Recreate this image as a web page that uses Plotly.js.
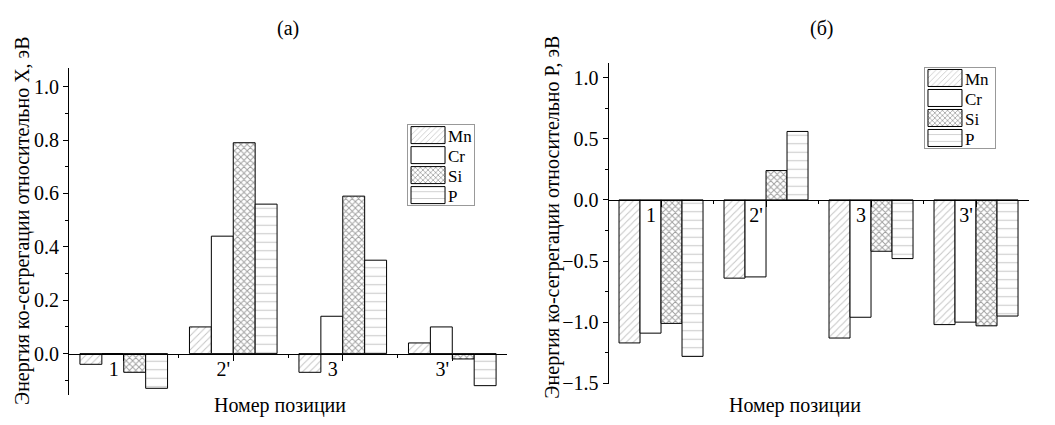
<!DOCTYPE html>
<html>
<head>
<meta charset="utf-8">
<script src="https://cdn.plot.ly/plotly-3.0.1.min.js"></script>
<style>html,body{margin:0;padding:0;background:#fff;}#chart{width:1055px;height:425px;}</style>
</head>
<body>
<div id="chart"></div>
<script>
// ---- data ----
const categories = ['1', "2'", '3', "3'"];
const seriesNames = ['Mn', 'Cr', 'Si', 'P'];
// (a) relative to X
const a_Mn = [-0.04, 0.10, -0.07, 0.04];
const a_Cr = [0.00, 0.44, 0.14, 0.10];
const a_Si = [-0.07, 0.79, 0.59, -0.02];
const a_P  = [-0.13, 0.56, 0.35, -0.12];
// (б) relative to P
const b_Mn = [-1.17, -0.64, -1.13, -1.02];
const b_Cr = [-1.09, -0.63, -0.96, -1.00];
const b_Si = [-1.01, 0.24, -0.42, -1.03];
const b_P  = [-1.28, 0.56, -0.48, -0.95];
const yTicksA = [0.0, 0.2, 0.4, 0.6, 0.8, 1.0];
const yTicksB = [-1.5, -1.0, -0.5, 0.0, 0.5, 1.0];

// ---- styles ----
const FONT = '"Liberation Serif", "Times New Roman", serif';
const styles = {
  Mn: {shape: '/', fgcolor: '#8a8a8a', size: 5, solidity: 0.2},
  Cr: {shape: '', fgcolor: '#ffffff', size: 8, solidity: 0.1},
  Si: {shape: 'x', fgcolor: '#404040', size: 4.5, solidity: 0.38},
  P:  {shape: '-', fgcolor: '#9a9a9a', size: 8.5, solidity: 0.13}
};
const xpos = categories.map((c, i) => i + 1);

function mk(name, vals, xa, ya, legend) {
  const s = styles[name];
  return {
    type: 'bar', name: name, x: xpos, y: vals, xaxis: xa, yaxis: ya, legend: legend,
    marker: {
      color: '#ffffff',
      line: {color: '#000000', width: 1},
      pattern: {shape: s.shape, fgcolor: s.fgcolor, bgcolor: '#ffffff', size: s.size, solidity: s.solidity, fillmode: 'overlay'}
    },
    hoverinfo: 'x+y+name'
  };
}
const dataA = [a_Mn, a_Cr, a_Si, a_P];
const dataB = [b_Mn, b_Cr, b_Si, b_P];
const traces = [];
seriesNames.forEach((n, i) => traces.push(mk(n, dataA[i], 'x', 'y', 'legend')));
seriesNames.forEach((n, i) => traces.push(mk(n, dataB[i], 'x2', 'y2', 'legend2')));

const domXA = [0.0654, 0.4806], domYA = [0.0706, 0.84];
const domXB = [0.5768, 0.9749], domYB = [0.0953, 0.8518];
const rangeYA = [-0.155, 1.07], rangeYB = [-1.51, 1.12];
function zeroPos(dom, r) { return dom[0] + (0 - r[0]) / (r[1] - r[0]) * (dom[1] - dom[0]); }

const tickFont = {family: FONT, size: 20, color: '#000'};
function xAxis(dom, ydom, yr) {
  return {
    domain: dom, range: [0.5, 4.5], anchor: 'free', position: zeroPos(ydom, yr),
    showline: true, linecolor: '#000', linewidth: 1, showgrid: false, zeroline: false,
    tickmode: 'array', tickvals: xpos, ticktext: categories,
    ticks: 'outside', ticklen: 6, tickcolor: '#000', ticklabelshift: -10, ticklabelstandoff: -9,
    minor: {ticks: 'outside', ticklen: 3, tickcolor: '#000', tickmode: 'array', tickvals: [1.5, 2.5, 3.5], showgrid: false},
    tickfont: tickFont, fixedrange: true
  };
}
function yAxis(dom, r, tv, mdt, anchor) {
  return {
    domain: dom, range: r, anchor: anchor, showline: true, linecolor: '#000', linewidth: 1,
    showgrid: false, zeroline: false, tickmode: 'array', tickvals: tv, tickformat: '.1f',
    ticks: 'outside', ticklen: 5, tickcolor: '#000',
    minor: {ticks: 'outside', ticklen: 3, tickcolor: '#000', dtick: mdt, showgrid: false},
    tickfont: tickFont, fixedrange: true
  };
}
const legendCommon = {
  font: {family: FONT, size: 17, color: '#000'}, bgcolor: 'rgba(255,255,255,0)',
  bordercolor: '#999', borderwidth: 1, xanchor: 'left', yanchor: 'top',
  tracegroupgap: 0, itemwidth: 30, traceorder: 'normal'
};
const titleFont = {family: FONT, size: 20, color: '#000'};
const layout = {
  width: 1055, height: 425, margin: {l: 0, r: 0, t: 0, b: 0},
  paper_bgcolor: '#fff', plot_bgcolor: 'rgba(0,0,0,0)',
  barmode: 'group', bargap: 0.2, bargroupgap: 0,
  showlegend: true,
  xaxis: xAxis(domXA, domYA, rangeYA),
  yaxis: yAxis(domYA, rangeYA, yTicksA, 0.1, 'x'),
  xaxis2: xAxis(domXB, domYB, rangeYB),
  yaxis2: yAxis(domYB, rangeYB, yTicksB, 0.25, 'x2'),
  legend: Object.assign({x: 0.3858, y: 0.708}, legendCommon),
  legend2: Object.assign({x: 0.8758, y: 0.8424}, legendCommon),
  annotations: [
    {text: '(a)', x: 0.273, y: 0.932, xref: 'paper', yref: 'paper', showarrow: false, font: titleFont, xanchor: 'center', yanchor: 'middle'},
    {text: '(б)', x: 0.7789, y: 0.932, xref: 'paper', yref: 'paper', showarrow: false, font: titleFont, xanchor: 'center', yanchor: 'middle'},
    {text: 'Энергия ко-сегрегации относительно X, эВ', x: 0.0209, y: 0.48, xref: 'paper', yref: 'paper', showarrow: false, textangle: -90, font: titleFont, xanchor: 'center', yanchor: 'middle'},
    {text: 'Энергия ко-сегрегации относительно P, эВ', x: 0.5242, y: 0.488, xref: 'paper', yref: 'paper', showarrow: false, textangle: -90, font: titleFont, xanchor: 'center', yanchor: 'middle'},
    {text: 'Номер позиции', x: 0.2654, y: 0.047, xref: 'paper', yref: 'paper', showarrow: false, font: titleFont, xanchor: 'center', yanchor: 'middle'},
    {text: 'Номер позиции', x: 0.7536, y: 0.047, xref: 'paper', yref: 'paper', showarrow: false, font: titleFont, xanchor: 'center', yanchor: 'middle'}
  ]
};

// Compact legend: wide swatches and tight rows, as in the original figure
function compactLegends() {
  const SW = 34, SH = 17, STEP = 20, TOP = 10.5, GAP = 3;
  document.querySelectorAll('g.legend, g.legend2').forEach(lg => {
    const bg = lg.querySelector('rect.bg');
    if (!bg) return;
    const items = Array.from(lg.querySelectorAll('g.traces'));
    let maxRight = 0;
    items.forEach((it, i) => {
      const txt = it.querySelector('text.legendtext');
      const tx = txt ? parseFloat(txt.getAttribute('x')) || 40 : 40;
      it.querySelectorAll('g.legendpoints path').forEach(p => {
        p.setAttribute('d', `M${SW / 2},${SH / 2}H${-SW / 2}V${-SH / 2}H${SW / 2}Z`);
        p.setAttribute('transform', `translate(${tx - GAP - SW / 2},0)`);
      });
      const bgTop = bg.getBoundingClientRect().top;
      const pth = it.querySelector('g.legendpoints path');
      if (pth) {
        const r = pth.getBoundingClientRect();
        const cy = (r.top + r.bottom) / 2;
        const want = bgTop + TOP + i * STEP;
        const m = /translate\(\s*([-\d.e]+)[ ,]+([-\d.e]+)\s*\)/.exec(it.getAttribute('transform') || '');
        const x0 = m ? parseFloat(m[1]) : 0, y0 = m ? parseFloat(m[2]) : 0;
        it.setAttribute('transform', `translate(${x0},${y0 + (want - cy)})`);
      }
      const toggle = it.querySelector('rect.legendtoggle');
      if (toggle) toggle.setAttribute('height', STEP);
      if (txt) maxRight = Math.max(maxRight, txt.getBoundingClientRect().right);
    });
    const br = bg.getBoundingClientRect();
    bg.setAttribute('height', items.length * STEP + 1);
    if (maxRight > 0) bg.setAttribute('width', Math.ceil(maxRight - br.left + 2));
  });
}
Plotly.newPlot('chart', traces, layout, {displayModeBar: false, staticPlot: true}).then(compactLegends);
</script>
</body>
</html>
